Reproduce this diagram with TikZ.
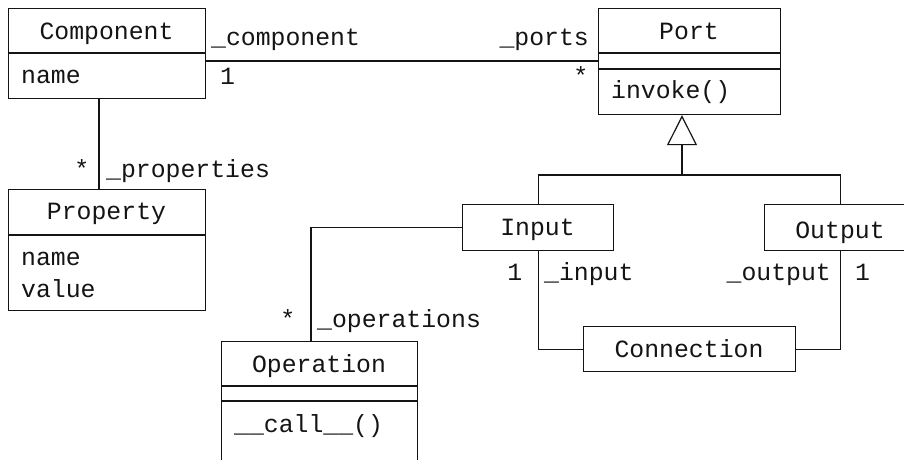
\documentclass[tikz,border=0pt]{standalone}
\usepackage{fontspec}
\usepackage{tikz}
\usetikzlibrary{arrows.meta,positioning,calc}
\newfontfamily\umlfont{Liberation Mono}
\definecolor{umlInk}{RGB}{20, 20, 20}

\tikzset{
    classbox/.style={draw=umlInk, line width=1.2pt, anchor=north west, inner sep=0pt},
    txt/.style={inner sep=0pt, text=umlInk},
    assoc/.style={draw=umlInk, line width=1.2pt},
    inherit/.style={assoc, -{Triangle[open, length=30pt, width=30pt, line width=1.2pt]}}
}

\begin{document}
\begin{tikzpicture}[x=1pt, y=-1pt, font=\umlfont\fontsize{24.8pt}{30pt}\selectfont]
    \path[use as bounding box, clip] (0,0) rectangle (904,460);

    % classes
    \node[classbox, minimum width=197pt, minimum height=90pt] (comp) at (8,8) {};
    \node[classbox, minimum width=182pt, minimum height=106pt] (port) at (598,8) {};
    \node[classbox, minimum width=197pt, minimum height=121pt] (prop) at (8,189) {};
    \node[classbox, minimum width=196pt, minimum height=150pt] (oper) at (221,341) {};
    \node[classbox, minimum width=151pt, minimum height=46pt] (input) at (462,204) {};
    \node[classbox, minimum width=152pt, minimum height=46pt] (output) at (764,204) {};
    \node[classbox, minimum width=212pt, minimum height=45pt] (conn) at (583,326) {};

    % compartments
    \draw[assoc] (comp.west |- 0,53) -- (comp.east |- 0,53);
    \draw[assoc] (port.west |- 0,53) -- (port.east |- 0,53);
    \draw[assoc] (port.west |- 0,69) -- (port.east |- 0,69);
    \draw[assoc] (prop.west |- 0,235) -- (prop.east |- 0,235);
    \draw[assoc] (oper.west |- 0,386) -- (oper.east |- 0,386);
    \draw[assoc] (oper.west |- 0,401) -- (oper.east |- 0,401);

    % class texts
    \node[txt, anchor=base] (comp-title) at (106.5,39.5) {Component};
    \node[txt, anchor=base west] (comp-name) at (21,83) {name};
    \node[txt, anchor=base] (port-title) at (689,39.5) {Port};
    \node[txt, anchor=base west] (port-invoke) at (611,98) {invoke()};
    \node[txt, anchor=base] (prop-title) at (106.5,219.5) {Property};
    \node[txt, anchor=base west] (prop-name) at (21,265) {name};
    \node[txt, anchor=base west] (prop-value) at (21,297) {value};
    \node[txt, anchor=base] (oper-title) at (319,372) {Operation};
    \node[txt, anchor=base west] (oper-call) at (234,432) {\_\_call\_\_()};
    \node[txt, anchor=base] (input-title) at (537.5,235) {Input};
    \node[txt, anchor=base] (output-title) at (840,238) {Output};
    \node[txt, anchor=base] (conn-title) at (689,357) {Connection};

    % associations
    \draw[assoc] (comp.east |- 0,61) -- (port.west |- 0,61);
    \draw[assoc] (comp.south -| 99,0) -- (prop.north -| 99,0);
    \draw[assoc] (input.west) -| (oper.north -| 311,0);
    \draw[assoc] (input.south) |- (conn.west);
    \draw[assoc] (output.south) |- (conn.east);

    % generalization
    \coordinate (split) at (682,175);
    \draw[assoc] (input.north) |- (split) -| (output.north);
    \draw[inherit] (split) -- (port.south -| split);

    % roles and multiplicities
    \node[txt, anchor=base west] (r-comp) at (211,46) {\_component};
    \node[txt, anchor=base west] (m-comp) at (220,84) {1};
    \node[txt, anchor=base east] (r-ports) at (589,46) {\_ports};
    \node[txt, anchor=base east] (m-ports) at (588.5,84) {*};
    \node[txt, anchor=base east] (m-prop) at (89.5,177) {*};
    \node[txt, anchor=base west] (r-prop) at (106,177) {\_properties};
    \node[txt, anchor=base east] (m-oper) at (295.5,327) {*};
    \node[txt, anchor=base west] (r-oper) at (317,327) {\_operations};
    \node[txt, anchor=base east] (m-input) at (522.5,280) {1};
    \node[txt, anchor=base west] (r-input) at (544,280) {\_input};
    \node[txt, anchor=base east] (r-output) at (831,280) {\_output};
    \node[txt, anchor=base west] (m-output) at (855,280) {1};
\end{tikzpicture}
\end{document}
